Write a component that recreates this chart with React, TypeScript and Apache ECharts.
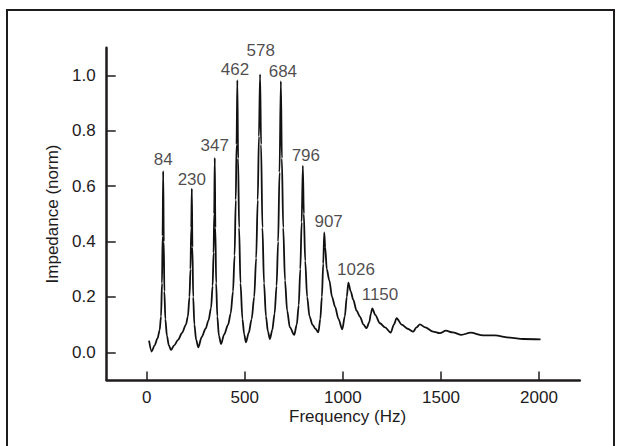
import React, { useEffect, useRef } from "react";
import * as echarts from "echarts";

// Frequency (Hz) samples of the curve
const freq = [
  12, 25, 40, 55, 66, 73, 78, 81, 84, 87, 90, 95, 103, 113, 124,
  140, 160, 180, 200, 210, 218, 223, 227, 230, 233, 237, 243, 252, 263,
  280, 300, 315, 328, 336, 341, 344, 347, 350, 354, 360, 368, 379,
  395, 415, 428, 440, 448, 454, 458, 462, 466, 471, 478, 488, 497, 506,
  520, 535, 548, 558, 566, 572, 578, 583, 590, 598, 608, 618, 628,
  640, 652, 662, 670, 677, 684, 689, 696, 705, 716, 730, 752,
  765, 775, 783, 790, 796, 801, 808, 818, 830, 845, 860, 875,
  885, 893, 900, 905, 910, 918, 931, 945, 960, 978, 997,
  1010, 1020, 1028, 1040, 1053, 1070, 1087, 1105, 1121,
  1135, 1143, 1150, 1165, 1189, 1215, 1244,
  1260, 1274, 1300, 1330, 1359, 1375, 1393, 1420, 1460, 1495,
  1525, 1560, 1605, 1651, 1716, 1775, 1852, 1919, 2008,
];
// Normalised impedance at each sample
const impedance = [
  0.042, 0.003, 0.025, 0.05, 0.08, 0.13, 0.25, 0.42, 0.654, 0.4, 0.22, 0.12, 0.06, 0.025, 0.008,
  0.025, 0.045, 0.07, 0.1, 0.13, 0.2, 0.3, 0.45, 0.591, 0.38, 0.2, 0.1, 0.045, 0.018,
  0.055, 0.085, 0.115, 0.16, 0.24, 0.36, 0.5, 0.702, 0.45, 0.25, 0.13, 0.06, 0.03,
  0.065, 0.1, 0.14, 0.22, 0.35, 0.55, 0.75, 0.983, 0.7, 0.45, 0.25, 0.12, 0.065, 0.036,
  0.07, 0.12, 0.2, 0.34, 0.55, 0.78, 1.004, 0.75, 0.45, 0.25, 0.13, 0.075, 0.048,
  0.08, 0.14, 0.24, 0.4, 0.65, 0.979, 0.7, 0.45, 0.26, 0.15, 0.09, 0.063,
  0.1, 0.17, 0.3, 0.47, 0.674, 0.5, 0.33, 0.2, 0.13, 0.1, 0.085, 0.072,
  0.12, 0.2, 0.32, 0.433, 0.38, 0.3, 0.26, 0.2, 0.165, 0.12, 0.083,
  0.13, 0.2, 0.252, 0.22, 0.19, 0.15, 0.129, 0.1, 0.087,
  0.11, 0.14, 0.159, 0.135, 0.105, 0.09, 0.071,
  0.1, 0.123, 0.1, 0.085, 0.075, 0.09, 0.101, 0.09, 0.075, 0.069,
  0.078, 0.072, 0.063, 0.071, 0.061, 0.061, 0.053, 0.048, 0.047,
];

// Labelled resonance peaks
const peakFreq = [84, 230, 347, 462, 578, 684, 796, 907, 1026, 1150];
const peakValue = [0.654, 0.591, 0.702, 0.983, 1.004, 0.979, 0.674, 0.433, 0.252, 0.159];
const peakText = ["84", "230", "347", "462", "578", "684", "796", "907", "1026", "1150"];

const xTicks = [0, 500, 1000, 1500, 2000];
const yTicks = [0, 0.2, 0.4, 0.6, 0.8, 1.0];

// label placement offsets (layout only)
const labelOffsets: [number, number][] = [
  [0, -12], [0, -9.5], [0, -12], [-2.3, -10.4], [0.7, -23.7],
  [2, -9.5], [3, -10], [4, -11], [8, -12.7], [7.7, -13.6],
];

const INK = "#1e1b1c";
const FONT = "Liberation Sans";
const FS = 17;

export default function App() {
  const ref = useRef<HTMLDivElement>(null);

  useEffect(() => {
    if (!ref.current) return;
    const chart = echarts.init(ref.current, undefined, { renderer: "svg" });
    const lineData = freq.map((f, i) => [f, impedance[i]]);
    const peakData = peakFreq.map((f, i) => ({
      value: [f, peakValue[i]],
      label: { offset: labelOffsets[i], formatter: peakText[i] },
    }));

    chart.setOption({
      animation: false,
      backgroundColor: "#ffffff",
      grid: { left: 106.7, right: 39.2, top: 47.7, bottom: 66, containLabel: false },
      xAxis: {
        type: "value",
        min: -204,
        max: 2208,
        axisLine: { show: true, onZero: false, lineStyle: { color: INK, width: 2.5 } },
        axisTick: {
          show: true,
          inside: true,
          length: 8.5,
          customValues: xTicks,
          lineStyle: { color: INK, width: 1.5 },
        },
        axisLabel: {
          show: true,
          customValues: xTicks,
          margin: 9,
          color: INK,
          fontFamily: FONT,
          fontSize: FS,
          formatter: (v: number) => String(v),
        },
        splitLine: { show: false },
      },
      yAxis: {
        type: "value",
        min: -0.1,
        max: 1.1,
        axisLine: { show: true, onZero: false, lineStyle: { color: INK, width: 2.5 } },
        axisTick: {
          show: true,
          inside: true,
          length: 9,
          customValues: yTicks,
          lineStyle: { color: INK, width: 1.5 },
        },
        axisLabel: {
          show: true,
          customValues: yTicks,
          margin: 11,
          color: INK,
          fontFamily: FONT,
          fontSize: FS,
          formatter: (v: number) => v.toFixed(1),
        },
        splitLine: { show: false },
      },
      graphic: [
        {
          type: "rect",
          shape: { x: 7, y: 10, width: 607, height: 460 },
          style: { fill: "none", stroke: INK, lineWidth: 2 },
          silent: true,
        },
        {
          type: "text",
          x: 289,
          y: 416,
          style: {
            text: "Frequency (Hz)",
            fill: INK,
            fontFamily: FONT,
            fontSize: FS,
            align: "left",
            verticalAlign: "middle",
          },
        },
        {
          type: "text",
          x: 52,
          y: 214,
          rotation: Math.PI / 2,
          style: {
            text: "Impedance (norm)",
            fill: INK,
            fontFamily: FONT,
            fontSize: FS,
            align: "center",
            verticalAlign: "middle",
          },
        },
      ],
      series: [
        {
          type: "line",
          data: lineData,
          showSymbol: false,
          smooth: 0.3,
          smoothMonotone: "x",
          lineStyle: { color: "#111111", width: 1.8 },
          silent: true,
        },
        {
          type: "scatter",
          data: peakData,
          symbolSize: 0,
          silent: true,
          label: {
            show: true,
            position: "inside",
            align: "center",
            verticalAlign: "middle",
            color: INK,
            fontFamily: FONT,
            fontSize: FS,
          },
        },
      ],
    });

    return () => chart.dispose();
  }, []);

  return (
    <div
      ref={ref}
      style={{ position: "fixed", left: 0, top: 0, width: 619, height: 446, background: "#fff" }}
    />
  );
}
